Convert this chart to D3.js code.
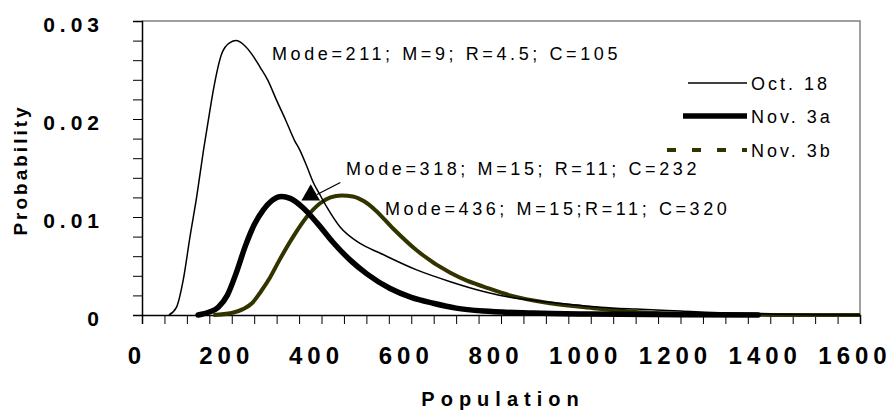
<!DOCTYPE html>
<html>
<head>
<meta charset="utf-8">
<script src="https://cdn.jsdelivr.net/npm/d3@7"></script>
<style>
  body { margin: 0; background: #fff; }
  text { font-family: "Liberation Sans", Arial, sans-serif; }
</style>
</head>
<body>
<svg id="chart"></svg>
<script>
// population values / probabilities
const oct18 = [
  [60, 0], [77, 0.0008], [92, 0.0036], [107, 0.0080], [122, 0.0121], [137, 0.0168],
  [150, 0.0205], [160, 0.0232], [178, 0.0267], [196, 0.0278], [210, 0.0280],
  [226, 0.0276], [245, 0.0266], [263, 0.0253], [280, 0.0240], [300, 0.0219],
  [320, 0.0199], [340, 0.0178], [352, 0.0168], [367, 0.0152], [382, 0.0135],
  [395, 0.0124], [412, 0.0110], [441, 0.0090], [486, 0.0073], [531, 0.0063],
  [612, 0.0046], [687, 0.0034], [761, 0.0024], [820, 0.0018], [910, 0.0013],
  [1021, 0.0008], [1100, 0.0006], [1200, 0.0004], [1300, 0.0002], [1400, 0.0001],
  [1500, 0.00003], [1600, 0]
];
const nov3a = [
  [125, 0], [150, 0.0003], [170, 0.0008], [190, 0.0020], [210, 0.0043], [230, 0.0070],
  [250, 0.0092], [270, 0.0107], [290, 0.0117], [311, 0.0121], [330, 0.0119],
  [360, 0.0109], [390, 0.0094], [426, 0.0074], [464, 0.0056], [501, 0.0042],
  [553, 0.0027], [600, 0.0018], [649, 0.0012], [700, 0.0007], [761, 0.0004],
  [872, 0.0002], [1000, 0.0001], [1200, 0.00003], [1373, 0]
];
const nov3b = [
  [159, 0], [200, 0.0002], [225, 0.0006], [245, 0.0012], [265, 0.0024], [285, 0.0038],
  [305, 0.0055], [337, 0.0080], [367, 0.0100], [397, 0.0114], [420, 0.0120],
  [445, 0.0122], [470, 0.0121], [495, 0.0116], [520, 0.0107], [560, 0.0088],
  [612, 0.0066], [687, 0.0043], [724, 0.0035], [761, 0.0029], [820, 0.0020],
  [910, 0.0012], [1006, 0.0007], [1147, 0.0002], [1318, 0.00008], [1450, 0], [1600, 0]
];
const seriesNames = ["Oct. 18", "Nov. 3a", "Nov. 3b"];
const notes = [
  "Mode=211; M=9; R=4.5; C=105",
  "Mode=318; M=15; R=11; C=232",
  "Mode=436; M=15;R=11; C=320"
];
const xTicks = [0, 200, 400, 600, 800, 1000, 1200, 1400, 1600];
const yTicks = [0, 0.01, 0.02, 0.03];
const yTickLabels = ["0", "0.01", "0.02", "0.03"];
const marker = [376, 0.01224];

const W = 895, H = 418;
const M = { top: 21, right: 35, bottom: 103, left: 142 };
const OLIVE = "#333300";

const svg = d3.select("#chart").attr("width", W).attr("height", H);

const x = d3.scaleLinear([0, 1600], [M.left, W - M.right]);
const y = d3.scaleLinear([0, 0.03], [H - M.bottom, M.top]);

// frame (grey top/right)
svg.append("path")
  .attr("d", `M${x(0)},${y(0.03)}H${x(1600)}V${y(0)}`)
  .attr("fill", "none").attr("stroke", "#808080").attr("stroke-width", 1.5);

// y axis
const yAxis = svg.append("g")
  .attr("transform", `translate(${x(0)},0)`)
  .call(d3.axisLeft(y).tickValues(d3.range(0, 0.0301, 0.002)).tickSize(9).tickFormat(""));
yAxis.select(".domain").attr("stroke", "#000").attr("stroke-width", 1.5);
yAxis.selectAll(".tick line").attr("stroke", "#000").attr("stroke-width", 1);

svg.append("g").selectAll("text")
  .data(yTicks)
  .join("text")
  .attr("x", 104)
  .attr("y", d => y(d) + 3)
  .attr("text-anchor", "end")
  .attr("dominant-baseline", "central")
  .attr("font-size", 21).attr("font-weight", "bold")
  .attr("letter-spacing", 5)
  .text((d, i) => yTickLabels[i]);

// x axis
const xAxis = svg.append("g")
  .attr("transform", `translate(0,${y(0)})`)
  .call(d3.axisBottom(x).tickValues(d3.range(0, 1601, 50)).tickSize(9).tickFormat(""));
xAxis.select(".domain").attr("stroke", "#000").attr("stroke-width", 1.5);
xAxis.selectAll(".tick line").attr("stroke", "#000").attr("stroke-width", 1);

svg.append("g").selectAll("text")
  .data(xTicks)
  .join("text")
  .attr("x", d => x(d) - 5)
  .attr("y", 364)
  .attr("text-anchor", "middle")
  .attr("font-size", 24).attr("font-weight", "bold")
  .attr("letter-spacing", 5)
  .text(d => d);

// axis titles
svg.append("text")
  .attr("x", 503).attr("y", 406)
  .attr("text-anchor", "middle")
  .attr("font-size", 20).attr("font-weight", "bold")
  .attr("letter-spacing", 6)
  .text("Population");

svg.append("text")
  .attr("transform", "translate(27,170) rotate(-90)")
  .attr("text-anchor", "middle")
  .attr("font-size", 19).attr("font-weight", "bold")
  .attr("letter-spacing", 3)
  .text("Probability");

// curves
const line = d3.line().x(d => x(d[0])).y(d => y(d[1])).curve(d3.curveMonotoneX);

svg.append("path").datum(nov3b)
  .attr("d", line).attr("fill", "none")
  .attr("stroke", OLIVE).attr("stroke-width", 4).attr("stroke-linejoin", "round");
svg.append("path").datum(nov3a)
  .attr("d", line).attr("fill", "none")
  .attr("stroke", "#000").attr("stroke-width", 5.5)
  .attr("stroke-linecap", "round").attr("stroke-linejoin", "round");
svg.append("path").datum(oct18)
  .attr("d", line).attr("fill", "none")
  .attr("stroke", "#000").attr("stroke-width", 1.5);

// marker + pointer
svg.append("line")
  .attr("x1", x(390)).attr("y1", y(0.0123))
  .attr("x2", x(442)).attr("y2", y(0.01352))
  .attr("stroke", "#000").attr("stroke-width", 1.3);
svg.append("path")
  .attr("d", d3.symbol(d3.symbolTriangle, 150)())
  .attr("transform", `translate(${x(marker[0])},${y(marker[1])})`)
  .attr("fill", "#000");

// annotations
const notePos = [[272, 60], [346, 175], [385, 215]];
svg.append("g").selectAll("text")
  .data(notes)
  .join("text")
  .attr("x", (d, i) => notePos[i][0])
  .attr("y", (d, i) => notePos[i][1])
  .attr("font-size", 18)
  .attr("letter-spacing", 3.6)
  .text(d => d);

// legend
const legendY = [83, 116, 150];
const lg = svg.append("g");
const styles = [
  { stroke: "#000", width: 1.5, dash: null, x1: 688 },
  { stroke: "#000", width: 5.5, dash: null, x1: 683 },
  { stroke: OLIVE, width: 4, dash: "9,16", x1: 667 }
];
seriesNames.forEach((name, i) => {
  lg.append("line")
    .attr("x1", styles[i].x1).attr("x2", 747)
    .attr("y1", legendY[i]).attr("y2", legendY[i])
    .attr("stroke", styles[i].stroke)
    .attr("stroke-width", styles[i].width)
    .attr("stroke-dasharray", styles[i].dash);
  lg.append("text")
    .attr("x", 751).attr("y", legendY[i] + 6.5)
    .attr("font-size", 18)
    .attr("letter-spacing", 3)
    .text(name);
});
</script>
</body>
</html>
